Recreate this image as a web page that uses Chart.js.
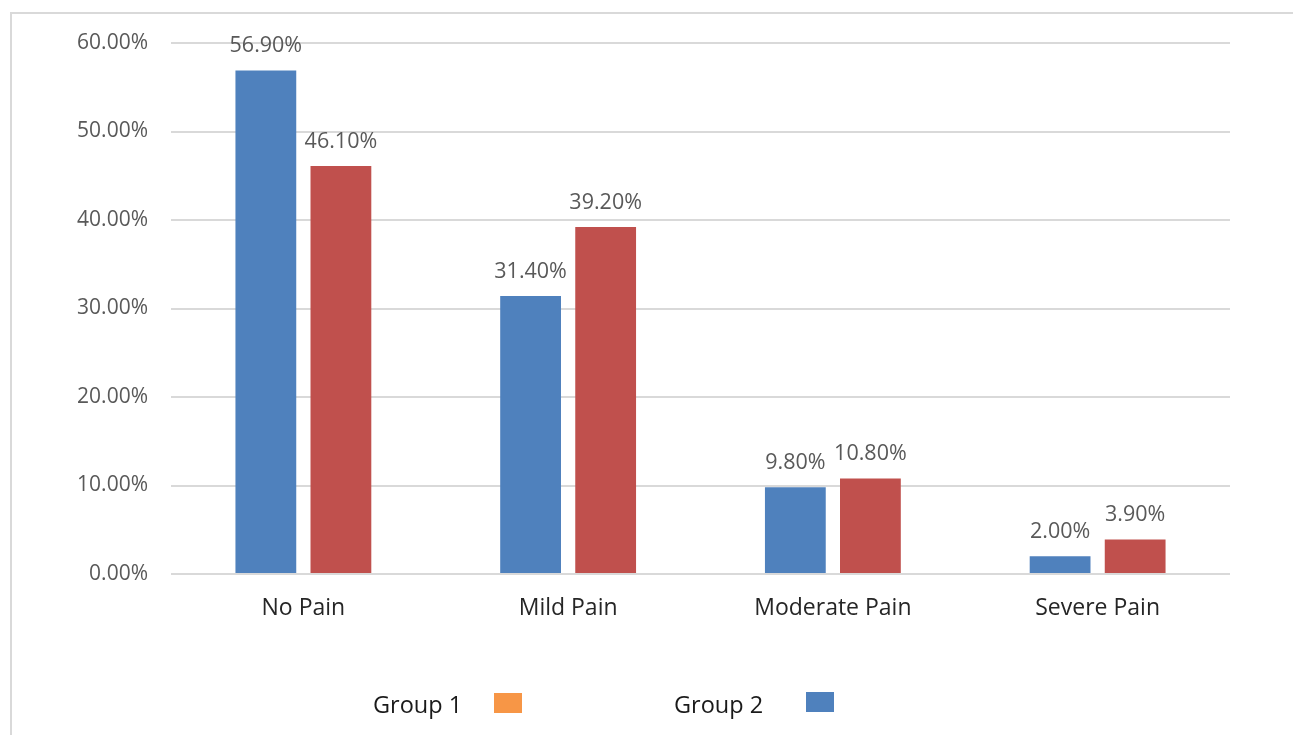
<!DOCTYPE html>
<html>
<head>
<meta charset="utf-8">
<script src="https://cdn.jsdelivr.net/npm/chart.js@4"></script>
<style>
  html, body { margin:0; padding:0; background:#fff; width:1293px; height:735px; overflow:hidden; }
  #frame { position:absolute; left:10px; top:12px; right:-5px; bottom:-5px; border-top:2px solid #d9d9d9; border-left:2px solid #d9d9d9; }
  #wrap { position:absolute; left:0; top:0; width:1293px; height:735px; }
  #legend { position:absolute; top:687px; left:0; width:1293px; height:34px; font-family:"Open Sans", sans-serif; font-size:23.5px; color:#1a1a1a; }
  .item { position:absolute; top:0; height:34px; display:flex; align-items:center; }
  .sw { display:inline-block; width:28px; height:20px; }
</style>
</head>
<body>
<div id="frame"></div>
<div id="wrap"><canvas id="c" width="1293" height="735"></canvas></div>
<div id="legend"></div>
<script>
const categories = ["No Pain", "Mild Pain", "Moderate Pain", "Severe Pain"];
const seriesNames = ["Group 1", "Group 2"];
const group1Values = [56.9, 31.4, 9.8, 2.0];
const group2Values = [46.1, 39.2, 10.8, 3.9];
const yTicks = [0, 10, 20, 30, 40, 50, 60];
const legendNames = ["Group 1", "Group 2"];
const barColors = ["#4F81BD", "#C0504D"];
const legendColors = ["#F79646", "#4F81BD"];

const fontFamily = '"Open Sans", sans-serif';

const valueLabels = {
  id: 'valueLabels',
  afterDatasetsDraw(chart) {
    const ctx = chart.ctx;
    ctx.save();
    ctx.font = '21.5px ' + fontFamily;
    ctx.fillStyle = '#595959';
    ctx.textAlign = 'center';
    ctx.textBaseline = 'alphabetic';
    chart.data.datasets.forEach((ds, i) => {
      chart.getDatasetMeta(i).data.forEach((bar, j) => {
        ctx.fillText(ds.data[j].toFixed(2) + '%', bar.x, bar.y - 18);
      });
    });
    ctx.restore();
  }
};

new Chart(document.getElementById('c'), {
  type: 'bar',
  data: {
    labels: categories,
    datasets: [
      { label: seriesNames[0], data: group1Values, backgroundColor: barColors[0], barPercentage: 0.81, categoryPercentage: 0.567 },
      { label: seriesNames[1], data: group2Values, backgroundColor: barColors[1], barPercentage: 0.81, categoryPercentage: 0.567 }
    ]
  },
  options: {
    responsive: false,
    animation: false,
    devicePixelRatio: 1,
    layout: { padding: { left: 0, right: 63, top: 43, bottom: 0 } },
    plugins: { legend: { display: false }, tooltip: { enabled: false } },
    scales: {
      x: {
        grid: { display: false, drawTicks: false },
        border: { display: false },
        ticks: { color: '#262626', font: { family: fontFamily, size: 23 }, padding: 21 },
        afterFit(scale) { scale.height = 161; }
      },
      y: {
        min: 0, max: 60,
        afterBuildTicks(scale) { scale.ticks = yTicks.map(v => ({ value: v })); },
        grid: { color: '#d9d9d9', lineWidth: 2, drawTicks: false },
        border: { display: false },
        ticks: { color: '#595959', font: { family: fontFamily, size: 21 }, padding: 23,
                 callback: v => Number(v).toFixed(2) + '%' },
        afterFit(scale) { scale.width = 171; }
      }
    }
  },
  plugins: [valueLabels]
});

const legendEl = document.getElementById('legend');
const legendLefts = [373, 674];
const swatchLefts = [494, 806];
legendNames.forEach((name, i) => {
  const it = document.createElement('div');
  it.className = 'item';
  it.style.left = legendLefts[i] + 'px';
  const t = document.createElement('span');
  t.textContent = name;
  it.appendChild(t);
  legendEl.appendChild(it);
  const sw = document.createElement('span');
  sw.className = 'sw';
  sw.style.position = 'absolute';
  sw.style.left = swatchLefts[i] + 'px';
  sw.style.top = (i === 0 ? 6 : 5) + 'px';
  sw.style.background = legendColors[i];
  legendEl.appendChild(sw);
});
</script>
</body>
</html>
